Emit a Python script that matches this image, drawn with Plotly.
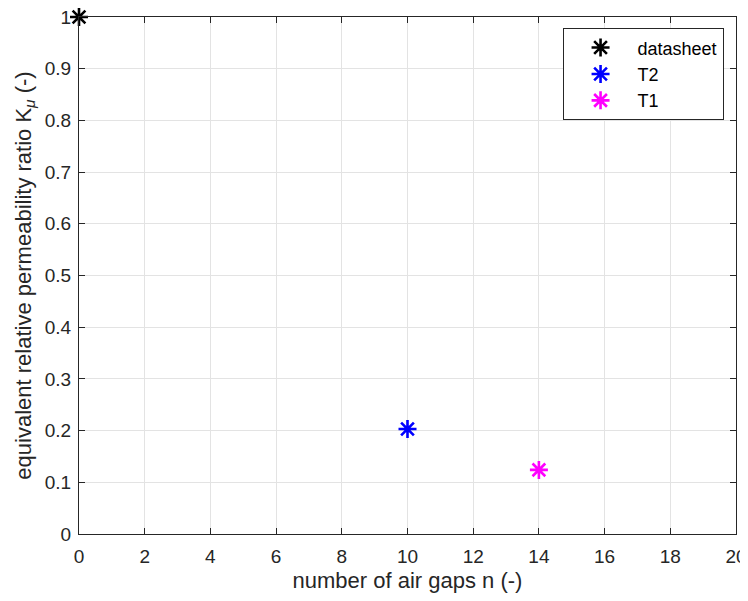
import plotly.graph_objects as go

series_names = ["datasheet", "T2", "T1"]
x_values = [[0], [10], [14]]
y_values = [[1.0], [0.203], [0.124]]
colors = ["#000000", "#0000ff", "#ff00ff"]

x_ticks = list(range(0, 21, 2))
y_ticks = [round(i * 0.1, 1) for i in range(11)]
y_tick_text = ["0", "0.1", "0.2", "0.3", "0.4", "0.5", "0.6", "0.7", "0.8", "0.9", "1"]

FONT = "Liberation Sans, Arial, sans-serif"

fig = go.Figure()
for name, xs, ys, c in zip(series_names, x_values, y_values, colors):
    fig.add_trace(go.Scatter(
        x=xs, y=ys, mode="markers", name=name,
        marker=dict(symbol="asterisk-open", size=15, color=c,
                    line=dict(color=c, width=2.6)),
        cliponaxis=False,
    ))

axis_common = dict(
    showline=True, linecolor="#262626", linewidth=1, mirror="ticks",
    ticks="inside", ticklen=6, tickcolor="#262626", tickwidth=1,
    showgrid=True, gridcolor="#e3e3e3", gridwidth=1, zeroline=False,
    automargin=False, ticklabeloverflow="allow",
    tickfont=dict(family=FONT, size=19, color="#262626"),
)

# the page body adds an 8px margin on every side
fig.update_layout(
    width=740, height=585,
    paper_bgcolor="white", plot_bgcolor="white",
    margin=dict(l=71, r=11.5, t=9, b=58.5),
    font=dict(family=FONT, color="#262626"),
    xaxis=dict(range=[0, 20], tickvals=x_ticks, ticktext=[str(v) for v in x_ticks],
               ticklabelstandoff=5,
               title=dict(text="number of air gaps n (-)", font=dict(size=22), standoff=10),
               **axis_common),
    yaxis=dict(range=[0, 1], tickvals=y_ticks, ticktext=y_tick_text,
               ticklabelstandoff=3,
               title=dict(text="equivalent relative permeability ratio K<sub><i>μ</i></sub> (-)",
                          font=dict(size=22), standoff=7),
               **axis_common),
    legend=dict(x=0.736, y=0.978, xanchor="left", yanchor="top",
                bgcolor="white", bordercolor="#262626", borderwidth=1,
                font=dict(family=FONT, size=18, color="#000000"), itemwidth=64,
                tracegroupgap=0),
    showlegend=True,
)

fig.write_html("out.html")
